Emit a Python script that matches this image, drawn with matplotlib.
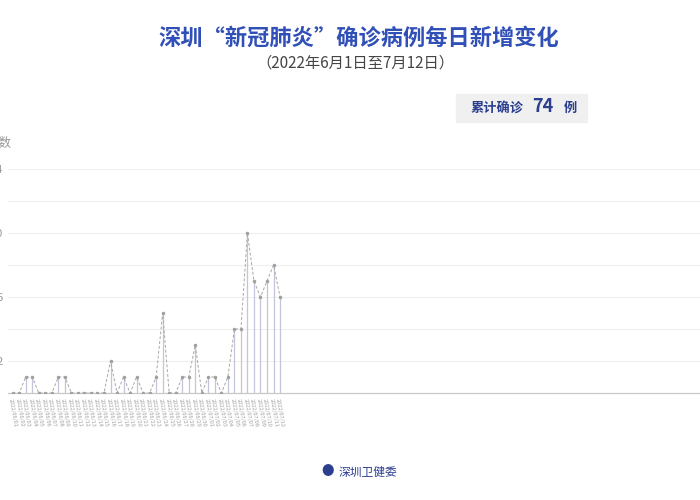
import matplotlib
matplotlib.use("Agg")
import matplotlib.pyplot as plt
from matplotlib.patches import Rectangle
import pandas as pd

plt.rcParams["font.family"] = ["Noto Sans CJK SC", "DejaVu Sans"]

# 2022/6/1 ~ 2022/7/12 每日新增确诊
dates = pd.date_range("2022-06-01", "2022-07-12", freq="D")
date_labels = [d.strftime("%Y/%m/%d") for d in dates]
new_cases = [0, 0, 1, 1, 0, 0, 0, 1, 1, 0,
             0, 0, 0, 0, 0, 2, 0, 1, 0, 1,
             0, 0, 1, 5, 0, 0, 1, 1, 3, 0,
             1, 1, 0, 1, 4, 4, 10, 7, 6, 7,
             8, 6]
y_ticks = [2, 6, 10, 14]
y_grid = [0, 2, 4, 6, 8, 10, 12, 14]
total = sum(new_cases)

fig = plt.figure(figsize=(7, 5), dpi=100)
fig.patch.set_facecolor("white")
ax = fig.add_axes([8 / 700, 1 - 393 / 500, 1 - 8 / 700, 224 / 500])

x = list(range(len(new_cases)))
for yg in y_grid[1:]:
    ax.axhline(yg, color="#efefef", lw=0.8, zorder=0)
ax.vlines(x, 0, new_cases, color="#c3c6da", lw=0.9, zorder=1)
ax.plot(x, new_cases, color="#a8a8a8", lw=0.7, ls=(0, (3, 2)), zorder=2)
ax.plot(x, new_cases, ls="none", marker="o", ms=1.5, color="#a0a0a0", zorder=3)

ax.set_xlim(-0.72, 105.4)
ax.set_ylim(0, 14)
ax.set_yticks(y_ticks)
ax.set_yticklabels([str(v) for v in y_ticks], color="#9a9a9a", fontsize=8)
ax.set_xticks(x)
ax.set_xticklabels(date_labels, rotation=-80, fontsize=4, color="#a0a0a0",
                   ha="left", va="top", rotation_mode="anchor")
ax.tick_params(axis="both", length=0, pad=4)
for side in ["top", "right", "left"]:
    ax.spines[side].set_visible(False)
ax.spines["bottom"].set_color("#c8c8c8")
ax.spines["bottom"].set_linewidth(0.9)

fig.text(12 / 700, 1 - 143 / 500, "例数", ha="right", va="center",
         fontsize=9, color="#999999")

# 标题
fig.text(359 / 700, 1 - 38 / 500, "深圳“新冠肺炎”确诊病例每日新增变化",
         ha="center", va="center", fontsize=16, fontweight="bold", color="#3050b8")
fig.text(355 / 700, 1 - 63 / 500, "（2022年6月1日至7月12日）",
         ha="center", va="center", fontsize=11, color="#444444")

# 累计确诊框
fig.patches.append(Rectangle((456 / 700, 1 - 122 / 500), 131 / 700, 28 / 500,
                             transform=fig.transFigure, color="#f0f0f0", zorder=0))
fig.text(497 / 700, 1 - 108 / 500, "累计确诊", ha="center", va="center",
         fontsize=9.5, fontweight="bold", color="#2c3f8f")
fig.text(543 / 700, 1 - 107 / 500, str(total), ha="center", va="center",
         fontsize=13, fontweight="bold", color="#2c3f8f")
fig.text(570 / 700, 1 - 108 / 500, "例", ha="center", va="center",
         fontsize=9.5, fontweight="bold", color="#2c3f8f")

# 底部署名
fig.text(328 / 700, 1 - 472 / 500, "●", ha="center", va="center",
         fontsize=9, color="#2c3f8f")
fig.text(368 / 700, 1 - 472 / 500, "深圳卫健委", ha="center", va="center",
         fontsize=8.5, color="#2c3f8f")

fig.savefig("out.png", dpi=100)
